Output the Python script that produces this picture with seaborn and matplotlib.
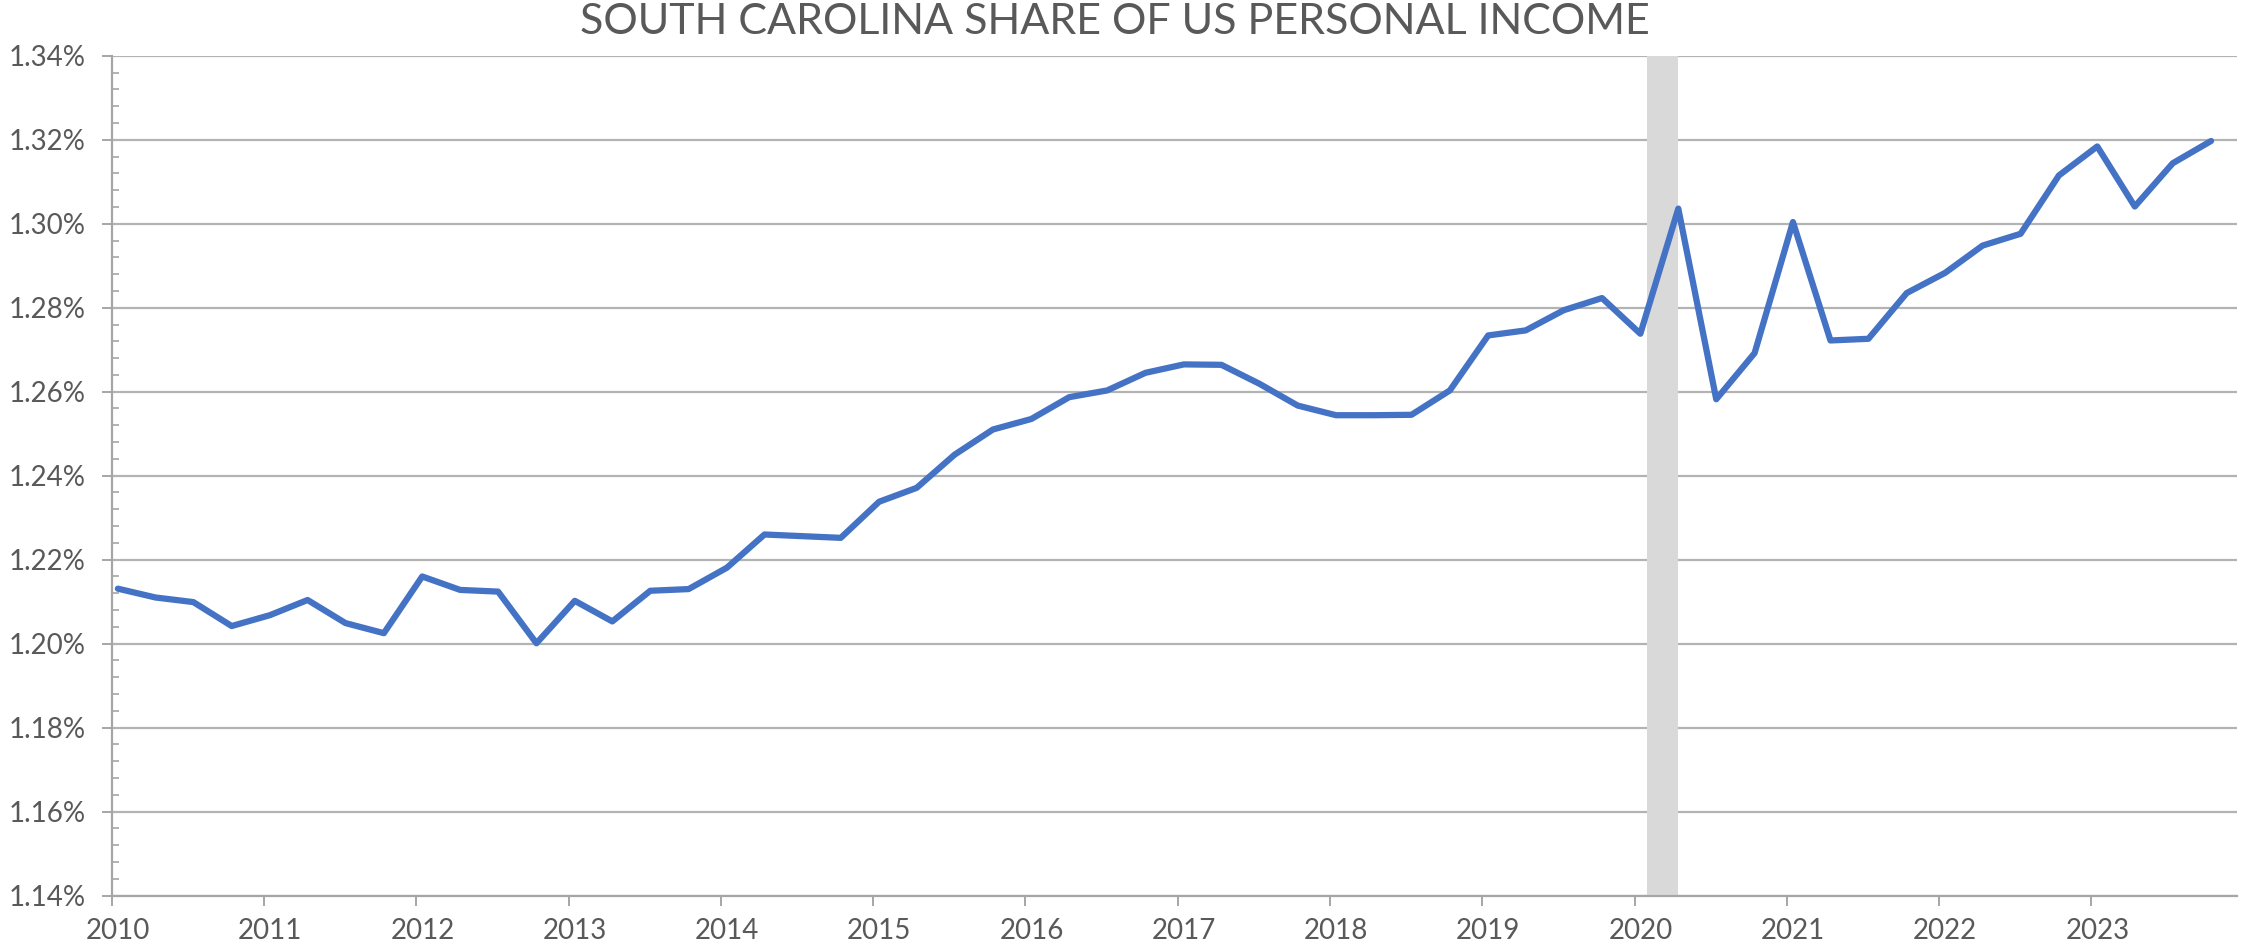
import pandas as pd
import matplotlib.pyplot as plt
import matplotlib.dates as mdates
import matplotlib.ticker as mticker
import matplotlib.transforms as mtransforms
import seaborn as sns

# Quarterly share of US personal income (%), 2010Q1 - 2023Q4
quarters = [f"{y}Q{q}" for y in range(2010, 2024) for q in range(1, 5)]
share_2010_2013 = [1.2131, 1.2110, 1.2099, 1.2042,
                   1.2068, 1.2104, 1.2049, 1.2025,
                   1.2160, 1.2128, 1.2124, 1.2001,
                   1.2102, 1.2053, 1.2126, 1.2130]
share_2014_2017 = [1.2181, 1.2260, 1.2256, 1.2252,
                   1.2338, 1.2371, 1.2450, 1.2510,
                   1.2535, 1.2587, 1.2603, 1.2645,
                   1.2665, 1.2664, 1.2619, 1.2567]
share_2018_2021 = [1.2544, 1.2544, 1.2545, 1.2603,
                   1.2734, 1.2746, 1.2794, 1.2823,
                   1.2738, 1.3036, 1.2582, 1.2692,
                   1.3004, 1.2722, 1.2726, 1.2835]
share_2022_2023 = [1.2883, 1.2948, 1.2976, 1.3115,
                   1.3184, 1.3041, 1.3144, 1.3197]
share = share_2010_2013 + share_2014_2017 + share_2018_2021 + share_2022_2023

# recession band
recession_start = "2020-02-01"
recession_end = "2020-04-15"

df = pd.DataFrame({
    "date": pd.PeriodIndex(quarters, freq="Q").to_timestamp() + pd.Timedelta(days=14),
    "share": share,
})

sns.set_style("white")
plt.rcParams["font.family"] = ["Lato", "DejaVu Sans"]

grey_txt = "#595959"
grey_line = "#A6A6A6"

fig = plt.figure(figsize=(22.41, 9.51), dpi=100)
ax = fig.add_axes([0.05, 0.0582, 0.948, 0.8832])

ax.axvspan(pd.Timestamp(recession_start), pd.Timestamp(recession_end),
           color="#D9D9D9", lw=0, zorder=2)
sns.lineplot(data=df, x="date", y="share", ax=ax, color="#4472C4",
             linewidth=4.5, zorder=3)

ax.set_ylim(1.14, 1.34)
ax.set_xlim(pd.Timestamp("2010-01-01"), pd.Timestamp("2023-12-15"))

ax.yaxis.set_major_locator(mticker.MultipleLocator(0.02))
ax.yaxis.set_minor_locator(mticker.MultipleLocator(0.004))
ax.yaxis.set_major_formatter(mticker.FuncFormatter(lambda v, p: f"{v:.2f}%"))
ax.xaxis.set_major_locator(mdates.YearLocator())
ax.xaxis.set_major_formatter(mdates.DateFormatter("%Y"))

ax.grid(axis="y", color="#B3B3B3", linewidth=1.6, zorder=1)
ax.set_axisbelow(True)

for s in ["top", "right"]:
    ax.spines[s].set_visible(False)
for s in ["left", "bottom"]:
    ax.spines[s].set_color(grey_line)
    ax.spines[s].set_linewidth(1.6)

ax.tick_params(axis="y", which="major", direction="out", length=7, width=1.4,
               color=grey_line, labelsize=20, labelcolor=grey_txt, pad=12, left=True)
ax.tick_params(axis="y", which="minor", direction="in", length=5, width=1.2,
               color=grey_line, left=True)
ax.tick_params(axis="x", which="major", direction="out", length=7, width=1.4,
               color=grey_line, labelsize=20, labelcolor=grey_txt, pad=9, bottom=True)

offset = mtransforms.ScaledTranslation(6 / 100, 0, fig.dpi_scale_trans)
for lab in ax.get_xticklabels():
    lab.set_transform(lab.get_transform() + offset)

ax.set_xlabel("")
ax.set_ylabel("")

fig.suptitle("SOUTH CAROLINA SHARE OF US PERSONAL INCOME", x=0.4975, y=0.997,
             va="top", fontsize=31, color=grey_txt)

fig.savefig("out.png", dpi=100)
